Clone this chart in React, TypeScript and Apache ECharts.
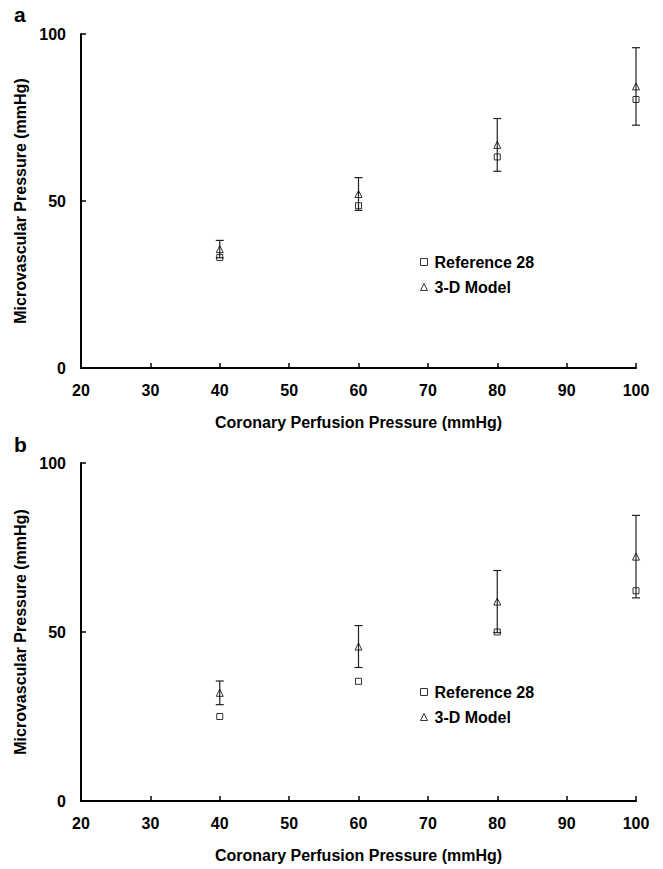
import React, { useEffect, useRef } from "react";
import * as echarts from "echarts";

const perfusionPressures = [40, 60, 80, 100];
const xTicks = [20, 100, 10];
const yTicks = [0, 100, 50];

const ref28A = [33.1, 48.6, 63.2, 80.4];
const modelA = [35.6, 52.1, 66.8, 84.3];
const errA = [2.6, 4.9, 7.9, 11.6];

const ref28B = [25.0, 35.4, 50.0, 62.2];
const modelB = [32.0, 45.7, 59.0, 72.3];
const errB = [3.5, 6.2, 9.2, 12.2];

const FONT = "'Liberation Sans', Arial, Helvetica, sans-serif";

function errorRender(params: any, api: any) {
  const x = api.value(0);
  const y = api.value(1);
  const e = api.value(2);
  const top = api.coord([x, y + e]);
  const bot = api.coord([x, y - e]);
  const w = 4;
  const style = { stroke: "#222", lineWidth: 1.2 };
  return {
    type: "group",
    children: [
      { type: "line", shape: { x1: top[0], y1: top[1], x2: bot[0], y2: bot[1] }, style },
      { type: "line", shape: { x1: top[0] - w, y1: top[1], x2: top[0] + w, y2: top[1] }, style },
      { type: "line", shape: { x1: bot[0] - w, y1: bot[1], x2: bot[0] + w, y2: bot[1] }, style },
    ],
  };
}

export default function App() {
  const ref = useRef<HTMLDivElement>(null);
  useEffect(() => {
    document.body.style.margin = "0";
    const chart = echarts.init(ref.current!, null, { renderer: "svg" });
    const grids = [
      { left: 81, top: 34, width: 555, height: 334 },
      { left: 81, top: 463, width: 555, height: 338 },
    ];
    const txt = { fontFamily: FONT, fontWeight: "bold", fontSize: 16, color: "#000" };
    const mkX = (i: number) => ({
      type: "value",
      gridIndex: i,
      min: xTicks[0],
      max: xTicks[1],
      interval: xTicks[2],
      name: "Coronary Perfusion Pressure (mmHg)",
      nameLocation: "middle",
      nameGap: 46,
      nameTextStyle: txt,
      axisLine: { show: true, lineStyle: { color: "#000", width: 2 } },
      axisTick: { show: true, inside: true, length: 5, lineStyle: { color: "#000", width: 1.5 } },
      axisLabel: { ...txt, margin: 14 },
      splitLine: { show: false },
    });
    const mkY = (i: number) => ({
      type: "value",
      gridIndex: i,
      min: yTicks[0],
      max: yTicks[1],
      interval: yTicks[2],
      name: "Microvascular Pressure (mmHg)",
      nameLocation: "middle",
      nameGap: 52,
      nameTextStyle: txt,
      axisLine: { show: true, lineStyle: { color: "#000", width: 2 } },
      axisTick: { show: true, inside: true, length: 5, lineStyle: { color: "#000", width: 1.5 } },
      axisLabel: { ...txt, margin: 15 },
      splitLine: { show: false },
    });
    const sq = { color: "rgba(0,0,0,0)", borderColor: "#000", borderWidth: 1 };
    const panels = [
      { ref: ref28A, model: modelA, err: errA },
      { ref: ref28B, model: modelB, err: errB },
    ];
    const series: any[] = [];
    panels.forEach((p, i) => {
      series.push({
        type: "custom",
        name: "err" + i,
        xAxisIndex: i,
        yAxisIndex: i,
        renderItem: errorRender,
        encode: { x: 0, y: 1 },
        data: p.model.map((v, k) => [perfusionPressures[k], v, p.err[k]]),
        z: 1,
      });
      series.push({
        type: "scatter",
        name: "Reference 28",
        xAxisIndex: i,
        yAxisIndex: i,
        symbol: "rect",
        symbolSize: 6,
        itemStyle: sq,
        data: p.ref.map((v, k) => [perfusionPressures[k], v]),
        z: 3,
      });
      series.push({
        type: "scatter",
        name: "3-D Model",
        xAxisIndex: i,
        yAxisIndex: i,
        symbol: "triangle",
        symbolSize: 7,
        itemStyle: sq,
        data: p.model.map((v, k) => [perfusionPressures[k], v]),
        z: 3,
      });
    });
    const mkLegend = (top: number) => ({
      orient: "vertical",
      left: 420,
      top,
      itemWidth: 7,
      itemHeight: 7,
      itemGap: 9,
      selectedMode: false,
      data: [
        { name: "Reference 28", icon: "rect" },
        { name: "3-D Model", icon: "triangle" },
      ],
      itemStyle: { color: "rgba(0,0,0,0)", borderColor: "#000", borderWidth: 1 },
      textStyle: { ...txt, padding: [0, 0, 0, 2] },
      padding: 0,
    });
    chart.setOption({
      animation: false,
      backgroundColor: "#fff",
      grid: grids,
      xAxis: [mkX(0), mkX(1)],
      yAxis: [mkY(0), mkY(1)],
      legend: [mkLegend(254), mkLegend(684)],
      series,
      graphic: [
        { type: "text", left: 14, top: 4, style: { text: "a", font: `bold 21px ${FONT}`, fill: "#000" } },
        { type: "text", left: 14, top: 434, style: { text: "b", font: `bold 21px ${FONT}`, fill: "#000" } },
      ],
    });
    return () => chart.dispose();
  }, []);
  return <div ref={ref} style={{ width: 663, height: 869 }} />;
}
